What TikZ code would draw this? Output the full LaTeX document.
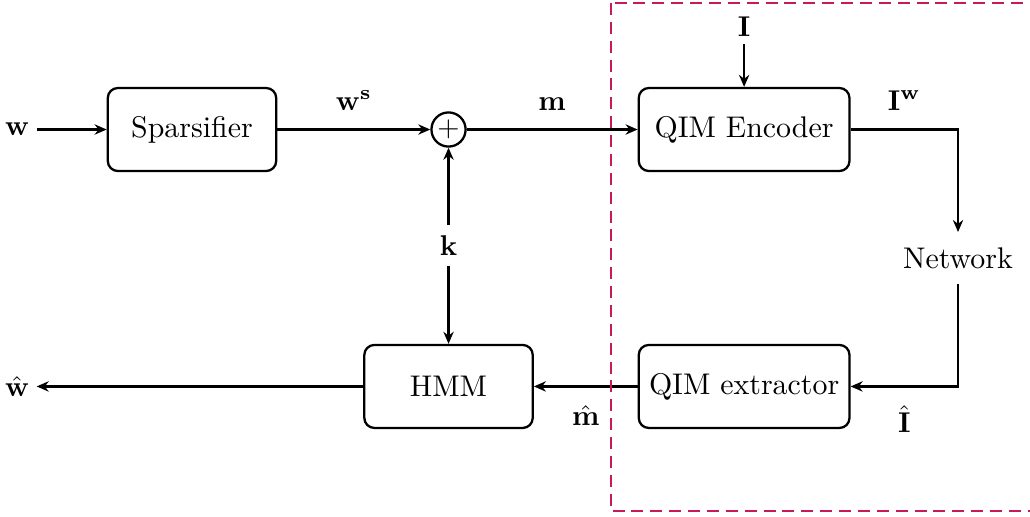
\documentclass[tikz,border=0pt]{standalone}
\usepackage{amsmath}
\usepackage{amssymb}
\usepackage{tikz}
\usetikzlibrary{positioning}
\usetikzlibrary{calc}
\usetikzlibrary{arrows.meta}

\definecolor{boxred}{RGB}{200,25,90}

\begin{document}
\begin{tikzpicture}[>={Stealth[length=4.2pt,width=3.6pt]}, thick, font=\fontsize{10.45}{12.5}\selectfont]
    \useasboundingbox (-2.36,-4.762) rectangle (10.30,1.592);
    \begin{scope}[every node/.style={rectangle,rounded corners=3.5pt,thick,draw,minimum height=1.02cm}]
        \node(spars)[minimum width=2.07cm] {Sparsifier};
        \node(plus)[circle,inner sep=0pt,minimum size=0.42cm,right=1.88cm of spars] {$+$};
        \node(enc)[minimum width=2.59cm,right=2.1cm of plus] {QIM Encoder};
        \node(ext)[minimum width=2.59cm,below=2.11cm of enc] {QIM extractor};
        \node(hmm)[minimum width=2.07cm] at (plus |- ext) {HMM};
    \end{scope}
    % inputs, outputs and the channel
    \begin{scope}[every node/.style={inner sep=2.2pt}]
        \node(w)[left=0.86cm of spars] {$\mathbf{w}$};
        \node(what) at (w |- hmm) {$\hat{\mathbf{w}}$};
        \node(I)[above=0.53cm of enc] {$\mathbf{I}$};
    \end{scope}
    \node(net)[inner sep=5pt] at ($(enc.east)!0.5!(ext.east)+(1.32,0)$) {Network};
    \node(k) at ($(plus.south)!0.5!(hmm.north)$) {$\mathbf{k}$};
    %Lines
    \begin{scope}[every node/.style={inner sep=6.3pt}]
        \draw[->] (w) -- (spars);
        \draw[->] (spars) -- node[above] {$\mathbf{w}^{\mathbf{s}}$} (plus);
        \draw[->] (plus) -- node[above] {$\mathbf{m}$} (enc);
        \draw[->] (I) -- (enc);
        \draw[->] (enc.east) -| node[pos=0.25,above] {$\mathbf{I}^{\mathbf{w}}$} (net.north);
        \draw[->] (net.south) |- node[pos=0.75,below] {$\hat{\mathbf{I}}$} (ext.east);
        \draw[->] (ext) -- node[below] {$\hat{\mathbf{m}}$} (hmm);
        \draw[->] (hmm) -- (what);
        \draw[->] (k) -- (plus);
        \draw[->] (k) -- (hmm);
    \end{scope}
    % watermarking part
    \draw[boxred,line width=1pt,dash pattern=on 4.2pt off 2.4pt] (5.15,1.555) rectangle (10.6,-4.689);
\end{tikzpicture}
\end{document}
